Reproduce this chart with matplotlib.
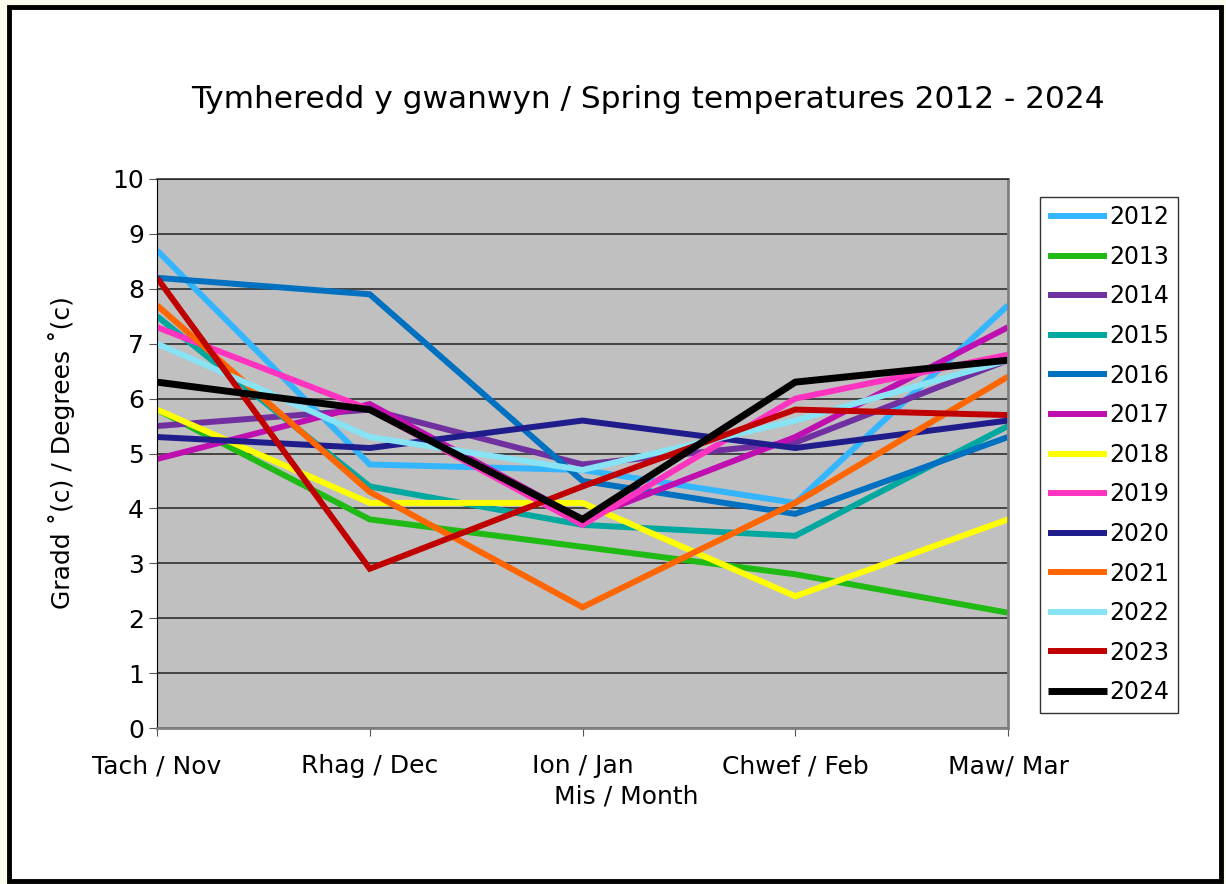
import matplotlib.pyplot as plt
from matplotlib.patches import Rectangle

plt.rcParams['font.family'] = ['DejaVu Sans']

months = ['Tach / Nov', 'Rhag / Dec', 'Ion / Jan', 'Chwef / Feb', 'Maw/ Mar']
years = ['2012', '2013', '2014', '2015', '2016', '2017', '2018',
         '2019', '2020', '2021', '2022', '2023', '2024']

t2012 = [8.7, 4.8, 4.7, 4.1, 7.7]
t2013 = [5.8, 3.8, 3.3, 2.8, 2.1]
t2014 = [5.5, 5.8, 4.8, 5.2, 6.7]
t2015 = [7.5, 4.4, 3.7, 3.5, 5.5]
t2016 = [8.2, 7.9, 4.5, 3.9, 5.3]
t2017 = [4.9, 5.9, 3.8, 5.3, 7.3]
t2018 = [5.8, 4.1, 4.1, 2.4, 3.8]
t2019 = [7.3, 5.8, 3.7, 6.0, 6.8]
t2020 = [5.3, 5.1, 5.6, 5.1, 5.6]
t2021 = [7.7, 4.3, 2.2, 4.1, 6.4]
t2022 = [7.0, 5.3, 4.7, 5.6, 6.7]
t2023 = [8.2, 2.9, 4.4, 5.8, 5.7]
t2024 = [6.3, 5.8, 3.8, 6.3, 6.7]

series = [t2012, t2013, t2014, t2015, t2016, t2017, t2018,
          t2019, t2020, t2021, t2022, t2023, t2024]
colors = ['#33b5ff', '#1fba14', '#7030a0', '#00a8a0', '#0070c0', '#c00fb0',
          '#ffff00', '#ff33c0', '#201c8c', '#ff6600', '#88e4f4', '#c00000', '#000000']

fig = plt.figure(figsize=(12.26, 8.84), dpi=100)
fig.patch.set_facecolor('#fcfcee')
fig.patches.append(Rectangle((9 / 1226, 3 / 884), 1212 / 1226, 874 / 884,
                             transform=fig.transFigure, facecolor='white',
                             edgecolor='black', linewidth=3.5, zorder=-10))

ax = fig.add_axes([157 / 1226, 156 / 884, 851 / 1226, 549 / 884])
ax.set_facecolor('#c0c0c0')

x = range(len(months))
for yr, vals, c in zip(years, series, colors):
    lw = 5 if yr == '2024' else 4.3
    ax.plot(x, vals, color=c, linewidth=lw, label=yr,
            solid_capstyle='butt', solid_joinstyle='miter')

ax.set_xlim(0, 4)
ax.set_ylim(0, 10)
ax.set_yticks(range(0, 11))
ax.set_xticks(list(x))
ax.set_xticklabels(months)
ax.grid(axis='y', color='#222222', linewidth=1.1)
ax.set_axisbelow(True)
ax.tick_params(labelsize=18, length=6, color='#555555')
ax.tick_params(axis='x', pad=13)
for s in ['right', 'bottom']:
    ax.spines[s].set_color('#808080')
    ax.spines[s].set_linewidth(2)
ax.spines['top'].set_color('#222222')
ax.spines['top'].set_linewidth(1.1)
ax.spines['left'].set_color('black')

fig.text(648 / 1226, 1 - 100 / 884,
         'Tymheredd y gwanwyn / Spring temperatures 2012 - 2024',
         fontsize=22.5, ha='center', va='center')
ax.set_xlabel('Mis / Month', fontsize=18)
ax.xaxis.set_label_coords((626 - 157) / 851, (728 - 784) / 549)
ax.set_ylabel('Gradd ˚(c) / Degrees ˚(c)', fontsize=18, va='center')
ax.yaxis.set_label_coords((62 - 157) / 851, (728 - 453) / 549)

leg = ax.legend(loc='upper left', bbox_to_anchor=(1040 / 1226, 1 - 197 / 884),
                bbox_transform=fig.transFigure, fontsize=17, frameon=True,
                fancybox=False, edgecolor='black', borderaxespad=0,
                handlelength=2.5, handletextpad=0.1, labelspacing=0.66,
                borderpad=0.35)
leg.get_frame().set_linewidth(1)

plt.savefig('out.png', dpi=100, facecolor=fig.get_facecolor())
